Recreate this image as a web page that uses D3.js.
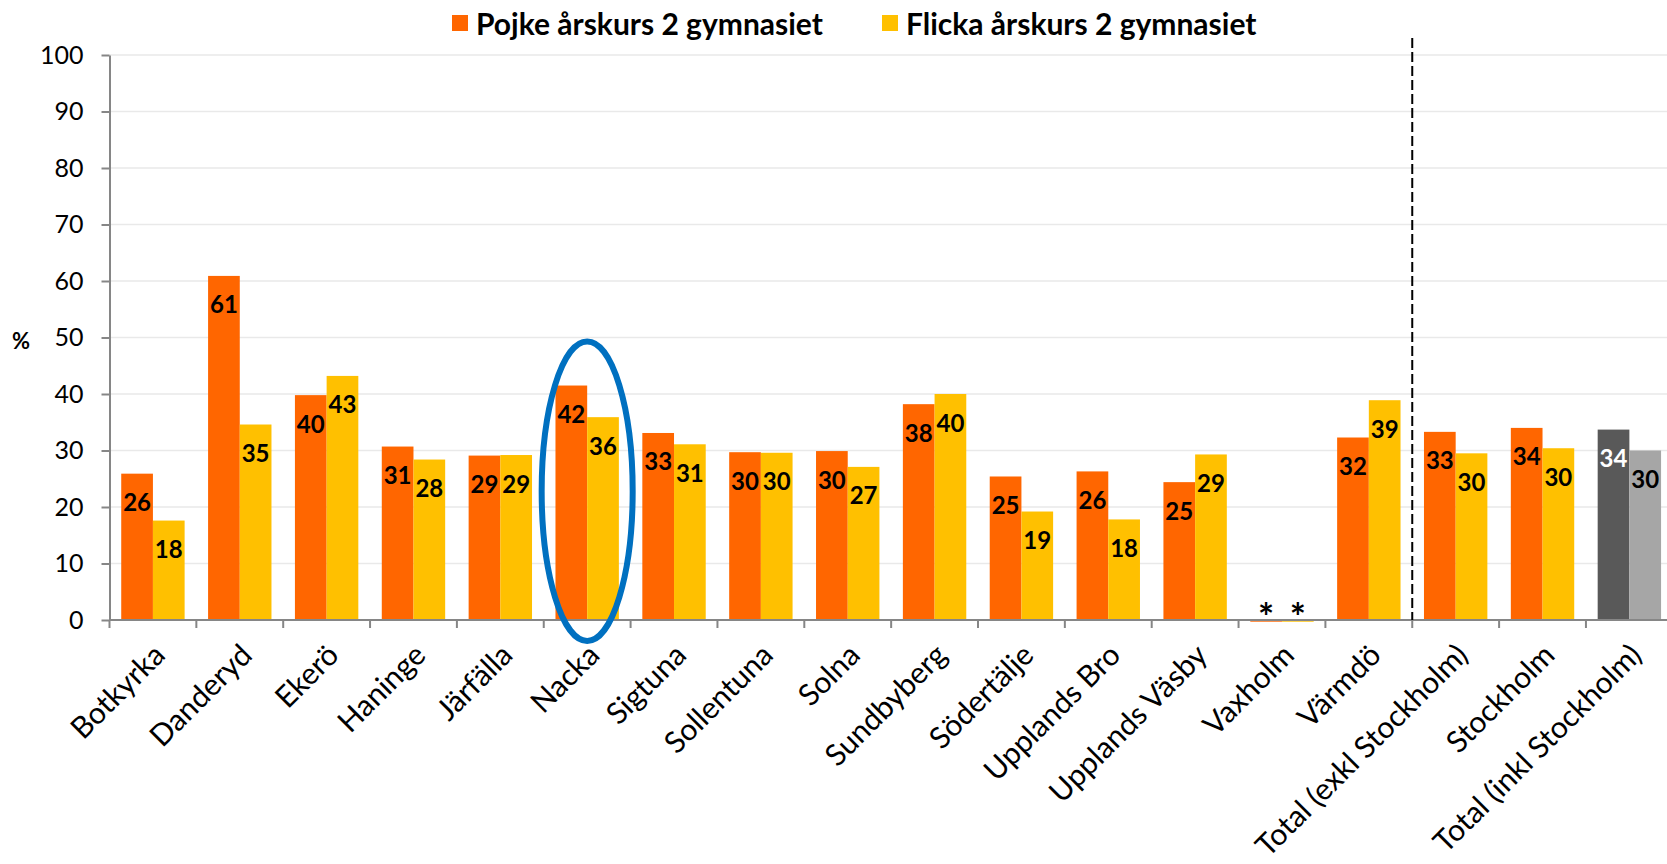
<!DOCTYPE html>
<html>
<head>
<meta charset="utf-8">
<script src="https://d3js.org/d3.v7.min.js"></script>
<style>
  body { margin: 0; background: #fff; }
  text { font-family: Lato, "Open Sans", sans-serif; }
</style>
</head>
<body>
<div id="plot"></div>
<script>
// data
const categories = ["Botkyrka", "Danderyd", "Ekerö", "Haninge", "Järfälla", "Nacka", "Sigtuna",
  "Sollentuna", "Solna", "Sundbyberg", "Södertälje", "Upplands Bro", "Upplands Väsby",
  "Vaxholm", "Värmdö", "Total (exkl Stockholm)", "Stockholm", "Total (inkl Stockholm)"];
const seriesNames = ["Pojke årskurs 2 gymnasiet", "Flicka årskurs 2 gymnasiet"];
const pojke  = [25.9, 60.9, 39.8, 30.7, 29.1, 41.5, 33.1, 29.7, 29.9, 38.2, 25.4, 26.3, 24.4, -0.3, 32.3, 33.3, 34.0, 33.7];
const flicka = [17.6, 34.6, 43.2, 28.4, 29.2, 35.9, 31.1, 29.6, 27.1, 40.0, 19.2, 17.8, 29.3, -0.3, 38.9, 29.5, 30.4, 30.0];
const pojkeLabels  = ["26","61","40","31","29","42","33","30","30","38","25","26","25","*","32","33","34","34"];
const flickaLabels = ["18","35","43","28","29","36","31","30","27","40","19","18","29","*","39","30","30","30"];
const yTicks = [0, 10, 20, 30, 40, 50, 60, 70, 80, 90, 100];

const W = 1667, H = 864;
const colors = ["#FF6600", "#FFC000"];
const grays = ["#595959", "#A6A6A6"];

const svg = d3.select("#plot").append("svg")
  .attr("width", W).attr("height", H);

const y = d3.scaleLinear().domain([0, 100]).range([620, 55]);
const x = d3.scaleBand().domain(categories).range([109.5, 1672.8]).padding(0);
const xs = d3.scaleBand().domain([0, 1]).range([0, x.bandwidth()])
  .paddingInner(0).paddingOuter(0.37);

// grid
svg.append("g")
  .selectAll("line")
  .data(yTicks.filter(d => d > 0))
  .enter().append("line")
    .attr("x1", 109.5).attr("x2", W)
    .attr("y1", d => y(d)).attr("y2", d => y(d))
    .attr("stroke", "#e9e9e9").attr("stroke-width", 1.5);

// bars
const rows = categories.map((c, i) => ({
  cat: c, i: i,
  vals: [pojke[i], flicka[i]],
  labels: [pojkeLabels[i], flickaLabels[i]]
}));

const groups = svg.append("g").selectAll("g")
  .data(rows)
  .enter().append("g")
    .attr("transform", d => "translate(" + x(d.cat) + ",0)");

groups.selectAll("rect")
  .data(d => d.vals.map((v, k) => ({ v: v, k: k, i: d.i, label: d.labels[k] })))
  .enter().append("rect")
    .attr("x", d => xs(d.k))
    .attr("width", xs.bandwidth())
    .attr("y", d => y(Math.max(0, d.v)))
    .attr("height", d => Math.abs(y(d.v) - y(0)))
    .attr("fill", d => d.i === categories.length - 1 ? grays[d.k] : colors[d.k]);

groups.selectAll("text")
  .data(d => d.vals.map((v, k) => ({ v: v, k: k, i: d.i, label: d.labels[k] })))
  .enter().append("text")
    .attr("x", d => xs(d.k) + xs.bandwidth() / 2)
    .attr("y", d => d.label === "*" ? y(0) - 4 : y(d.v) + 28)
    .attr("text-anchor", "middle")
    .attr("dominant-baseline", "central")
    .style("font-size", d => d.label === "*" ? "38px" : "24px")
    .style("font-weight", "bold")
    .attr("fill", d => (d.i === categories.length - 1 && d.k === 0) ? "#fff" : "#000")
    .text(d => d.label);

// y axis
const yAxis = svg.append("g")
  .attr("transform", "translate(109.5,0)")
  .call(d3.axisLeft(y).tickValues(yTicks).tickSize(8).tickPadding(18).tickSizeOuter(0));
yAxis.select(".domain").attr("stroke", "#868686").attr("stroke-width", 2);
yAxis.selectAll(".tick line").attr("stroke", "#868686").attr("stroke-width", 2);
yAxis.selectAll(".tick text")
  .style("font-size", "25px").attr("fill", "#000");

// x axis line and boundary ticks
svg.append("line")
  .attr("x1", 109.5).attr("x2", W)
  .attr("y1", y(0)).attr("y2", y(0))
  .attr("stroke", "#868686").attr("stroke-width", 2);
svg.append("g").selectAll("line")
  .data(d3.range(categories.length + 1))
  .enter().append("line")
    .attr("x1", d => x.range()[0] + d * x.step())
    .attr("x2", d => x.range()[0] + d * x.step())
    .attr("y1", y(0)).attr("y2", y(0) + 8)
    .attr("stroke", "#868686").attr("stroke-width", 2);

// x labels
svg.append("g").selectAll("text")
  .data(categories)
  .enter().append("text")
    .attr("transform", d => "translate(" + (x(d) + x.bandwidth() / 2 + 14) + "," + (y(0) + 37) + ") rotate(-45)")
    .attr("text-anchor", "end")
    .style("font-size", "30px")
    .attr("fill", "#000")
    .text(d => d);

// dashed separator before the totals
const sepX = x(categories[15]);
svg.append("line")
  .attr("x1", sepX).attr("x2", sepX)
  .attr("y1", y(103)).attr("y2", y(0))
  .attr("stroke", "#000").attr("stroke-width", 2)
  .attr("stroke-dasharray", "10 4");

// Nacka highlight
svg.append("ellipse")
  .attr("cx", x("Nacka") + x.bandwidth() / 2)
  .attr("cy", y(22.8))
  .attr("rx", x.bandwidth() * 0.524)
  .attr("ry", y(0) - y(26.5))
  .attr("fill", "none")
  .attr("stroke", "#0070C0")
  .attr("stroke-width", 6);

// % label
svg.append("text")
  .attr("x", 21).attr("y", 340)
  .attr("text-anchor", "middle")
  .attr("dominant-baseline", "central")
  .style("font-size", "22px").style("font-weight", "bold")
  .text("%");

// legend
const legendX = [452, 882];
const legend = svg.append("g").selectAll("g")
  .data(seriesNames)
  .enter().append("g")
    .attr("transform", (d, i) => "translate(" + legendX[i] + ",23)");
legend.append("rect")
  .attr("x", 0).attr("y", -8).attr("width", 16).attr("height", 16)
  .attr("fill", (d, i) => colors[i]);
legend.append("text")
  .attr("x", 24).attr("y", 0)
  .attr("dominant-baseline", "central")
  .style("font-size", "30px").style("font-weight", "bold")
  .text(d => d);
</script>
</body>
</html>
